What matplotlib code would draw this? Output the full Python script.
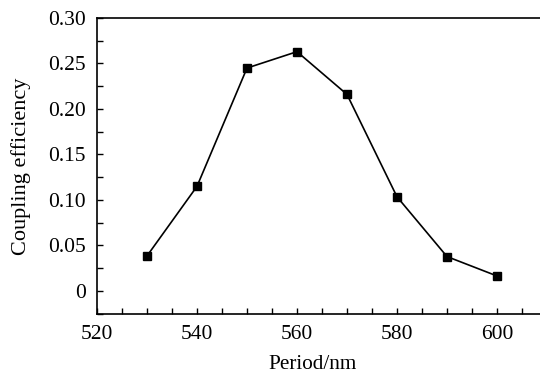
import matplotlib
matplotlib.use('Agg')
import matplotlib.pyplot as plt
from matplotlib.ticker import MultipleLocator

period=[530,540,550,560,570,580,590,600]
efficiency=[0.0385,0.115,0.245,0.263,0.216,0.1035,0.0378,0.0165]

plt.rcParams['font.family']='Liberation Serif'

fig=plt.figure(figsize=(5.4,3.75),dpi=100)
ax=fig.add_axes([97/540,61/375,443/540,296/375])
ax.plot(period,efficiency,color='black',lw=1.2,marker='s',ms=5.5,mfc='black',mec='black')
ax.set_xlim(520,608.6)
ax.set_ylim(-0.0253,0.30)
ax.xaxis.set_major_locator(MultipleLocator(20))
ax.xaxis.set_minor_locator(MultipleLocator(5))
ax.yaxis.set_major_locator(MultipleLocator(0.05))
ax.yaxis.set_minor_locator(MultipleLocator(0.025))
ax.set_yticks([0,0.05,0.10,0.15,0.20,0.25,0.30])
ax.set_yticklabels(['0','0.05','0.10','0.15','0.20','0.25','0.30'])
ax.tick_params(which='both',direction='in',length=4,width=1,labelsize=15.5)
ax.tick_params(axis='x',pad=8)
ax.tick_params(axis='y',pad=8)
ax.spines['right'].set_visible(False)
for s in ['left','bottom','top']:
	ax.spines[s].set_linewidth(1.2)
ax.set_xlabel('Period/nm',fontsize=15.3,va='center')
ax.set_ylabel('Coupling efficiency',fontsize=16,va='center')
ax.xaxis.set_label_coords(0.4876,-0.172)
ax.yaxis.set_label_coords(-0.172,0.5)
fig.savefig('out.png',dpi=100)
